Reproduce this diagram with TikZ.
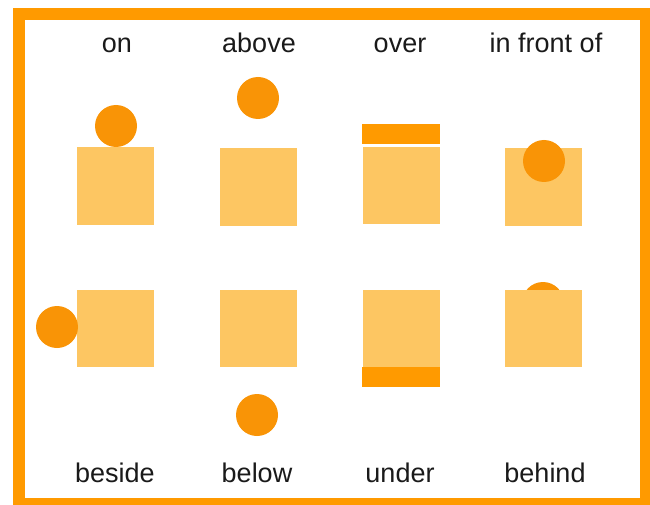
\documentclass[tikz,border=0pt]{standalone}
\usepackage{fontspec}
\setmainfont{Liberation Sans}
\definecolor{frameor}{HTML}{FF9A00}
\definecolor{boxor}{HTML}{FDC662}
\definecolor{ballor}{HTML}{F99406}
\definecolor{txt}{HTML}{1A1A1A}
\tikzset{
  sq/.style={fill=boxor, draw=none, minimum size=77pt, inner sep=0pt, outer sep=0pt},
  ball/.style={circle, fill=ballor, draw=none, minimum size=42pt, inner sep=0pt},
  bar/.style={fill=frameor, draw=none, minimum width=78pt, minimum height=20pt, inner sep=0pt},
  lbl/.style={anchor=base, text=txt, font=\fontsize{27}{32}\selectfont, inner sep=0pt}
}
\begin{document}
\begin{tikzpicture}[x=1pt,y=-1pt]
\useasboundingbox (0,0) rectangle (650,505);
\fill[white] (0,0) rectangle (650,505);
\fill[frameor] (13,8) rectangle (650,505);
\fill[white] (25,20) rectangle (640,498);
% labels
\node[lbl] (lon) at (117,53) {on};
\node[lbl] (labove) at (259,53) {above};
\node[lbl] (lover) at (400,53) {over};
\node[lbl] (lfront) at (546,53) {in front of};
\node[lbl] (lbeside) at (115,482) {beside};
\node[lbl] (lbelow) at (257,482) {below};
\node[lbl] (lunder) at (400,482) {under};
\node[lbl] (lbehind) at (545,482) {behind};
% on
\node[sq] (s1) at (115.5,186) {};
\node[ball] (c1) at (116,126) {};
% above
\node[sq] (s2) at (258,187) {};
\node[ball] (c2) at (258,98) {};
% over
\node[sq] (s3) at (401,185.5) {};
\node[bar] (b3) at (401,134) {};
% in front of
\node[sq] (s4) at (543,187) {};
\node[ball] (c4) at (544,161) {};
% beside
\node[sq] (s5) at (115.5,328) {};
\node[ball] (c5) at (57,327) {};
% below
\node[sq] (s6) at (258,328) {};
\node[ball] (c6) at (257,415) {};
% under
\node[sq] (s7) at (401,328) {};
\node[bar, anchor=north] (b7) at (s7.south) {};
% behind
\node[ball] (c8) at (543,303) {};
\node[sq] (s8) at (543,328) {};
\end{tikzpicture}
\end{document}
